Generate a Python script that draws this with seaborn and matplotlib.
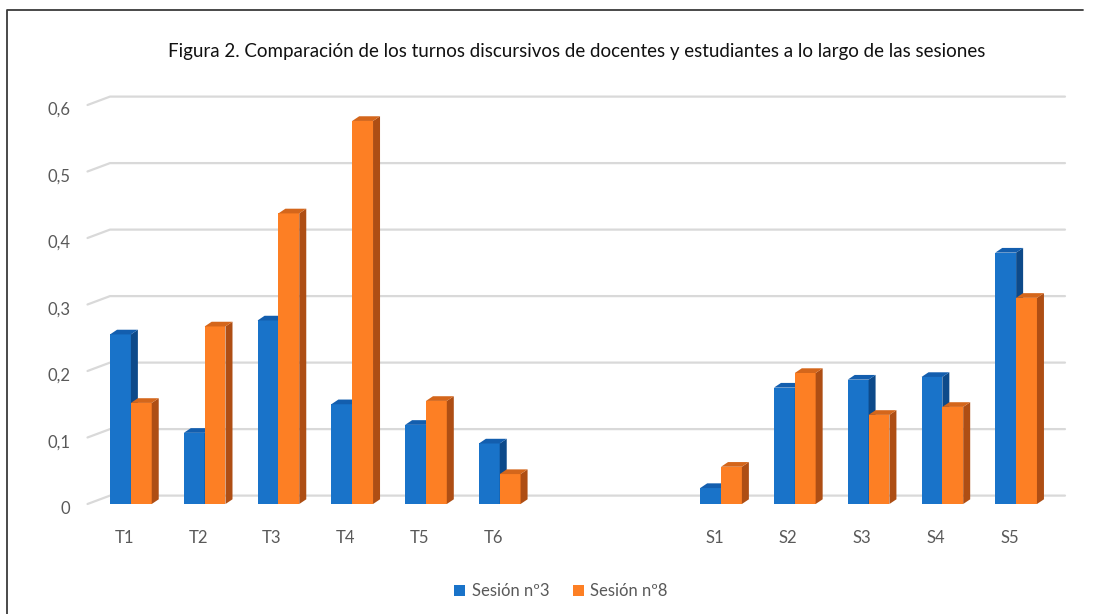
import numpy as np
import pandas as pd
import matplotlib
matplotlib.use("Agg")
import matplotlib.pyplot as plt
from matplotlib.patches import Polygon
from matplotlib.lines import Line2D
from matplotlib.colors import to_hex
import seaborn as sns

# ---- data ----
categories = ["T1", "T2", "T3", "T4", "T5", "T6", "S1", "S2", "S3", "S4", "S5"]
slot_order = ["T1", "T2", "T3", "T4", "T5", "T6", " ", "  ", "S1", "S2", "S3", "S4", "S5"]
sesion3 = [0.255, 0.107, 0.276, 0.150, 0.119, 0.091, 0.024, 0.175, 0.187, 0.191, 0.378]
sesion8 = [0.152, 0.267, 0.437, 0.576, 0.155, 0.045, 0.056, 0.197, 0.134, 0.146, 0.310]
series_names = ["Sesión nº3", "Sesión nº8"]
yticks = [0, 0.1, 0.2, 0.3, 0.4, 0.5, 0.6]
ytick_labels = ["0", "0,1", "0,2", "0,3", "0,4", "0,5", "0,6"]
title = "Figura 2. Comparación de los turnos discursivos de docentes y estudiantes a lo largo de las sesiones"

front = {"Sesión nº3": "#1973C9", "Sesión nº8": "#FD7F24"}
side = {"Sesión nº3": "#0D4A8A", "Sesión nº8": "#AE4E14"}
top = {"Sesión nº3": "#135EAE", "Sesión nº8": "#D4661B"}

df = pd.DataFrame({
    "cat": categories * 2,
    "serie": [series_names[0]] * len(categories) + [series_names[1]] * len(categories),
    "val": sesion3 + sesion8,
})

sns.set_theme(style="white")
plt.rcParams["font.family"] = ["Lato", "DejaVu Sans"]

W, H = 1093, 614
fig = plt.figure(figsize=(W / 100, H / 100), dpi=100)
ax = fig.add_axes([94 / W, (H - 504) / H, 959 / W, 399 / H])

sns.barplot(data=df, x="cat", y="val", hue="serie", order=slot_order,
            hue_order=series_names, palette=front, width=0.565,
            saturation=1, linewidth=0, legend=False, ax=ax, errorbar=None)
ax.set_ylim(0, 0.6)
ax.set_xlim(-0.5, len(slot_order) - 0.5)
ax.set_xlabel("")
ax.set_ylabel("")
ax.set_xticks([])
ax.set_yticks([])
for s in ax.spines.values():
    s.set_visible(False)
ax.patch.set_alpha(0)


def to_fig(px, py):
    return px / W, py / H


# depth offsets in pixels
DX_BAR, DY_BAR = 7.0, 4.7
DX_WALL, DY_WALL = 22.5, 8.4
grid_col = "#D9D9D9"

# back wall gridlines with diagonal from the front
x_left_front = ax.transAxes.transform((0, 0))[0] - 6.5
x_right_back = ax.transAxes.transform((1, 0))[0] + 12
for v in yticks:
    py = ax.transData.transform((0, v))[1]
    xs = [x_left_front, x_left_front + DX_WALL, x_right_back]
    ys = [py, py + DY_WALL, py + DY_WALL]
    fig.add_artist(Line2D([x / W for x in xs], [y / H for y in ys],
                          transform=fig.transFigure, color=grid_col, lw=1.6, zorder=0.5))

# 3D faces for the bars
front_hex = {k: to_hex(c).lower() for k, c in front.items()}
for p in list(ax.patches):
    h = p.get_height()
    if not np.isfinite(h) or h <= 0:
        continue
    fc = to_hex(p.get_facecolor()).lower()
    name = [k for k, c in front_hex.items() if c == fc]
    if not name:
        continue
    name = name[0]
    base_z = 2 if name == series_names[0] else 3
    p.set_zorder(base_z)
    x0, x1 = p.get_x(), p.get_x() + p.get_width()
    (X0, Y0) = ax.transData.transform((x0, 0))
    (X1, Yt) = ax.transData.transform((x1, h))
    side_pts = [(X1, Y0), (X1, Yt), (X1 + DX_BAR, Yt + DY_BAR), (X1 + DX_BAR, Y0 + DY_BAR)]
    top_pts = [(X0, Yt), (X1, Yt), (X1 + DX_BAR, Yt + DY_BAR), (X0 + DX_BAR, Yt + DY_BAR)]
    for pts, col in ((side_pts, side[name]), (top_pts, top[name])):
        fig.add_artist(Polygon([to_fig(a, b) for a, b in pts], closed=True,
                               transform=fig.transFigure, facecolor=col,
                               edgecolor="none", zorder=base_z + 0.5))
    # fig artists are drawn after axes; redraw front face on fig level for correct layering
    fr = [(X0, Y0), (X1, Y0), (X1, Yt), (X0, Yt)]
    fig.add_artist(Polygon([to_fig(a, b) for a, b in fr], closed=True,
                           transform=fig.transFigure, facecolor=front[name],
                           edgecolor="none", zorder=base_z))

# tick labels
tick_col = "#595959"
for v, lab in zip(yticks, ytick_labels):
    ax.annotate(lab, xy=(0, v), xycoords=("axes fraction", "data"),
                xytext=(-24 * 0.72, -5 * 0.72), textcoords="offset points",
                ha="right", va="center", fontsize=12, color=tick_col,
                annotation_clip=False)
for lab in categories:
    i = slot_order.index(lab)
    ax.annotate(lab, xy=(i, 0), xycoords=("data", "axes fraction"),
                xytext=(-6.5 * 0.72, -34 * 0.72), textcoords="offset points",
                ha="center", va="center", fontsize=12, color=tick_col,
                annotation_clip=False)

# title
fig.text(576.5 / W, 1 - 52 / H, title, ha="center", va="center",
         fontsize=13.5, color="#111111")

# legend
handles = [Polygon([[0, 0]], closed=True, facecolor=front[n], edgecolor="none") for n in series_names]
from matplotlib.patches import Patch
handles = [Patch(facecolor=front[n], edgecolor="none") for n in series_names]
fig.legend(handles, series_names, loc="center", bbox_to_anchor=(561 / W, 1 - 591 / H),
           ncol=2, frameon=False, fontsize=12, labelcolor=tick_col,
           handlelength=0.65, handleheight=0.65, handletextpad=0.4, columnspacing=1.4)

# chart border (left and top)
fig.add_artist(Line2D([7 / W, 7 / W, 1083 / W], [0, 1 - 10 / H, 1 - 10 / H],
                      transform=fig.transFigure, color="#3a3a3a", lw=1.3))

fig.savefig("out.png", dpi=100)
